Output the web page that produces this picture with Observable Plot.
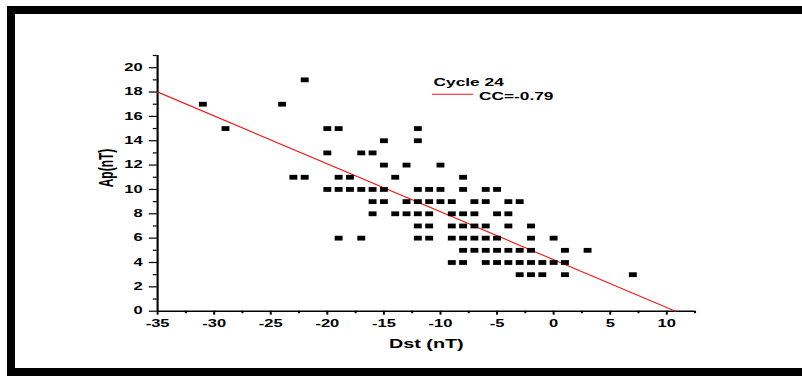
<!DOCTYPE html>
<html><head><meta charset="utf-8">
<script src="https://cdn.jsdelivr.net/npm/d3@7"></script>
<script src="https://cdn.jsdelivr.net/npm/@observablehq/plot@0.6"></script>
<style>
html,body{margin:0;padding:0;background:#fff;}
#wrap{position:relative;width:802px;height:376px;overflow:hidden;background:#fff;}
#wrap svg{position:absolute;left:0;top:0;}
.bd{position:absolute;background:#000;}
</style></head><body>
<div id="wrap"></div>
<script>
// Data
const dst = [
  -31, -24,
  -29, -20, -19, -12,
  -22,
  -15, -12,
  -20, -17, -16,
  -15, -13, -10,
  -23, -22, -19, -18, -14, -8,
  -20, -19, -18, -17, -16, -15, -12, -11, -10, -8, -6, -5,
  -16, -15, -13, -12, -11, -10, -9, -7, -6, -4, -3,
  -16, -14, -13, -12, -11, -9, -8, -7, -5, -4,
  -12, -11, -9, -8, -7, -6, -4, -2,
  -19, -17, -12, -11, -9, -8, -7, -6, -5, -2, 0,
  -8, -7, -6, -5, -4, -3, -2, 1, 3,
  -9, -8, -6, -5, -4, -3, -2, -1, 0, 1,
  -3, -2, -1, 1, 7
];
const ap = [
  17, 17,
  15, 15, 15, 15,
  19,
  14, 14,
  13, 13, 13,
  12, 12, 12,
  11, 11, 11, 11, 11, 11,
  10, 10, 10, 10, 10, 10, 10, 10, 10, 10, 10, 10,
  9, 9, 9, 9, 9, 9, 9, 9, 9, 9, 9,
  8, 8, 8, 8, 8, 8, 8, 8, 8, 8,
  7, 7, 7, 7, 7, 7, 7, 7,
  6, 6, 6, 6, 6, 6, 6, 6, 6, 6, 6,
  5, 5, 5, 5, 5, 5, 5, 5, 5,
  4, 4, 4, 4, 4, 4, 4, 4, 4, 4,
  3, 3, 3, 3, 3
];
const fitX = [-35, 10.75];
const fitY = [18, 0];
const xDomain = [-35, 12.5];
const yDomain = [0, 21];
const xMajor = [-35, -30, -25, -20, -15, -10, -5, 0, 5, 10];
const xMinor = [-32.5, -27.5, -22.5, -17.5, -12.5, -7.5, -2.5, 2.5, 7.5, 12.5];
const yMajor = [0, 2, 4, 6, 8, 10, 12, 14, 16, 18, 20];
const yMinor = [1, 3, 5, 7, 9, 11, 13, 15, 17, 19, 21];
const xLabel = "Dst (nT)";
const yLabel = "Ap(nT)";
const legendTitle = "Cycle 24";
const legendLabel = "CC=-0.79";

const points = dst.map((d, i) => ({dst: d, ap: ap[i]}));
const fit = fitX.map((d, i) => ({x: d, y: fitY[i]}));

const W = 486, H = 376, S = 802 / W;
const ML = 95, MR = 65.3, MT = 55, MB = 65.3;
const RED = "#f01818";

const svg = Plot.plot({
  width: W, height: H,
  marginLeft: ML, marginRight: MR, marginTop: MT, marginBottom: MB,
  x: {domain: xDomain},
  y: {domain: yDomain},
  style: {fontFamily: "'Liberation Sans', Arial, sans-serif", fontWeight: "bold", color: "black", background: "transparent"},
  marks: [
    Plot.axisY({ticks: yMajor, tickSize: 4.85, tickPadding: 4.2, tickFormat: d => String(d), fontSize: 10, strokeWidth: 1.2, label: null}),
    Plot.axisY({ticks: yMinor, tickSize: 2.4, tickFormat: () => "", strokeWidth: 1.2, label: null}),
    Plot.axisX({ticks: xMajor, tickSize: 4, tickPadding: 5, tickFormat: d => String(d), fontSize: 10, strokeWidth: 1.2, label: null}),
    Plot.axisX({ticks: xMinor, tickSize: 2.5, tickFormat: () => "", strokeWidth: 1.2, label: null}),
    Plot.ruleX([xDomain[0]], {strokeWidth: 1.3}),
    Plot.ruleY([yDomain[0]], {strokeWidth: 1.5}),
    Plot.line(fit, {x: "x", y: "y", stroke: RED, strokeWidth: 1}),
    Plot.dot(points, {x: "dst", y: "ap", symbol: "square", r: 2.7, fill: "black", stroke: null}),
    Plot.text([xLabel], {text: d => d, frameAnchor: "bottom", lineAnchor: "middle", dy: 32.5, fontSize: 12}),
    Plot.text([yLabel], {text: d => d, frameAnchor: "left", lineAnchor: "middle", rotate: -90, dx: -30.8, dy: 4, fontSize: 12}),
    Plot.text([legendTitle], {text: d => d, frameAnchor: "top-left", lineAnchor: "middle", textAnchor: "start", dx: 167.2, dy: 27.6, fontSize: 10.5}),
    Plot.text([legendLabel], {text: d => d, frameAnchor: "top-left", lineAnchor: "middle", textAnchor: "start", dx: 194.7, dy: 40.9, fontSize: 10.5})
  ]
});

// legend swatch
d3.select(svg).append("line")
  .attr("x1", 261.8).attr("x2", 286.7).attr("y1", 94.3).attr("y2", 94.3)
  .attr("stroke", RED).attr("stroke-width", 1);

// stretch horizontally like the reference picture
svg.setAttribute("width", 802);
svg.setAttribute("height", H);
svg.setAttribute("viewBox", `0 0 ${W} ${H}`);
svg.setAttribute("preserveAspectRatio", "none");
svg.style.width = "802px";
svg.style.height = H + "px";
svg.style.maxWidth = "none";

const wrap = document.getElementById("wrap");
wrap.appendChild(svg);

// frame border
[
  {left: 7, top: 6, width: 795, height: 8},
  {left: 7, top: 6, width: 8, height: 370},
  {left: 7, top: 368, width: 795, height: 8}
].forEach(b => {
  const d = document.createElement("div");
  d.className = "bd";
  Object.assign(d.style, {left: b.left + "px", top: b.top + "px", width: b.width + "px", height: b.height + "px"});
  wrap.appendChild(d);
});
</script></body></html>
